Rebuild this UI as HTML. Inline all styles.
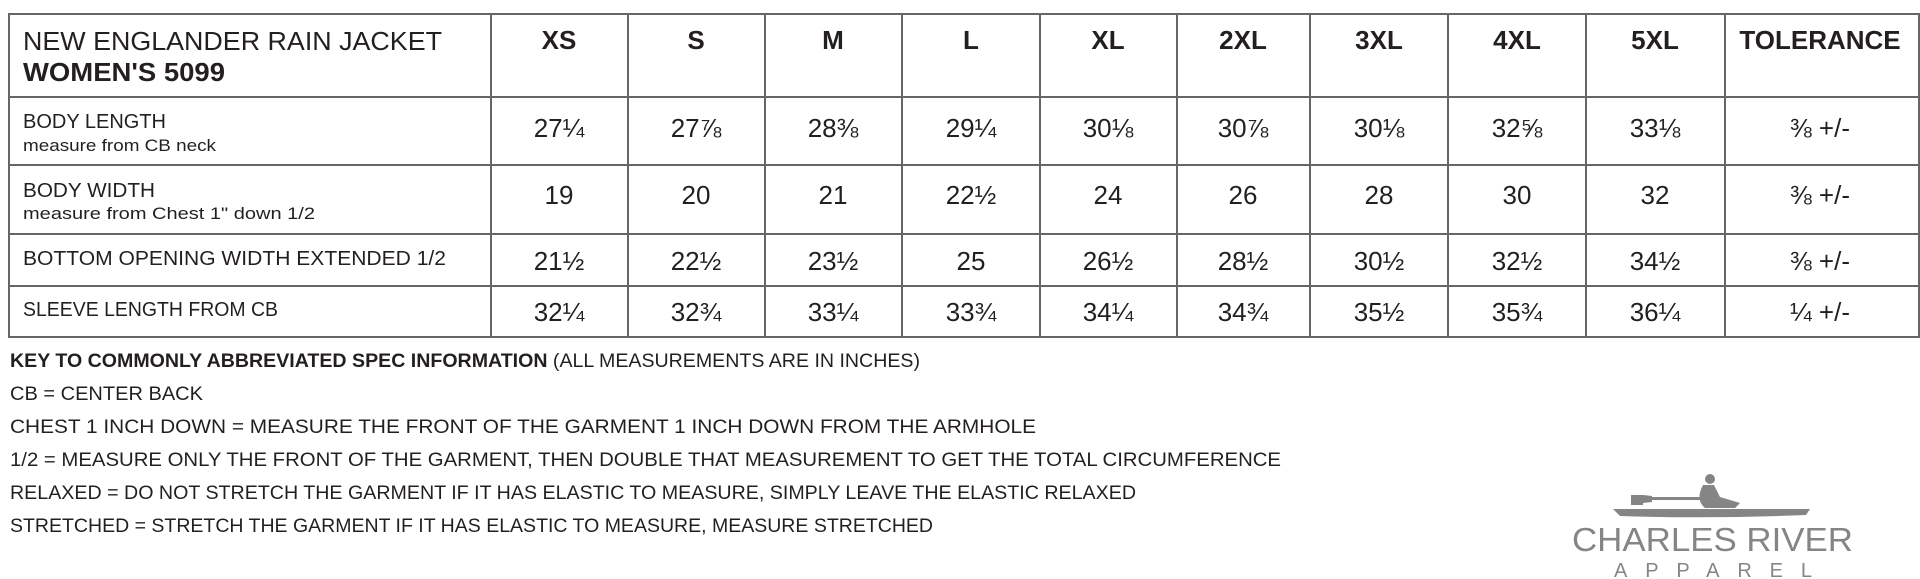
<!DOCTYPE html>
<html><head><meta charset="utf-8"><style>
html,body{margin:0;padding:0;background:#fff;width:1920px;height:579px;overflow:hidden}
svg{display:block}
text{font-family:"Liberation Sans",sans-serif;fill:#231f20}
.h{font-weight:bold;font-size:26px;text-anchor:middle}
.n{font-size:26px;text-anchor:middle}
.l{font-size:20px}
.s{font-size:17px}
.k{font-size:19px}
</style></head><body>
<svg width="1920" height="579" viewBox="0 0 1920 579">
<g stroke="#666" stroke-width="2" fill="none">
<rect x="9" y="14" width="1910" height="323"/>
<line x1="9" y1="97" x2="1919" y2="97"/>
<line x1="9" y1="165" x2="1919" y2="165"/>
<line x1="9" y1="234" x2="1919" y2="234"/>
<line x1="9" y1="286" x2="1919" y2="286"/>
<line x1="491" y1="14" x2="491" y2="337"/>
<line x1="628" y1="14" x2="628" y2="337"/>
<line x1="765" y1="14" x2="765" y2="337"/>
<line x1="902" y1="14" x2="902" y2="337"/>
<line x1="1040" y1="14" x2="1040" y2="337"/>
<line x1="1177" y1="14" x2="1177" y2="337"/>
<line x1="1310" y1="14" x2="1310" y2="337"/>
<line x1="1448" y1="14" x2="1448" y2="337"/>
<line x1="1586" y1="14" x2="1586" y2="337"/>
<line x1="1725" y1="14" x2="1725" y2="337"/>
</g>
<text x="23" y="50" style="font-size:26px" textLength="419" lengthAdjust="spacingAndGlyphs">NEW ENGLANDER RAIN JACKET</text>
<text x="23" y="81" style="font-size:26px;font-weight:bold" textLength="202" lengthAdjust="spacingAndGlyphs">WOMEN'S 5099</text>
<text class="l" x="23" y="128" textLength="143" lengthAdjust="spacingAndGlyphs">BODY LENGTH</text>
<text class="s" x="23" y="151" textLength="193" lengthAdjust="spacingAndGlyphs">measure from CB neck</text>
<text class="l" x="23" y="197" textLength="132" lengthAdjust="spacingAndGlyphs">BODY WIDTH</text>
<text class="s" x="23" y="219" textLength="292" lengthAdjust="spacingAndGlyphs">measure from Chest 1" down 1/2</text>
<text class="l" x="23" y="265" textLength="423" lengthAdjust="spacingAndGlyphs">BOTTOM OPENING WIDTH EXTENDED 1/2</text>
<text class="l" x="23" y="316" textLength="255" lengthAdjust="spacingAndGlyphs">SLEEVE LENGTH FROM CB</text>
<g>
<text class="h" x="559" y="49">XS</text>
<text class="h" x="696" y="49">S</text>
<text class="h" x="833" y="49">M</text>
<text class="h" x="971" y="49">L</text>
<text class="h" x="1108" y="49">XL</text>
<text class="h" x="1243" y="49">2XL</text>
<text class="h" x="1379" y="49">3XL</text>
<text class="h" x="1517" y="49">4XL</text>
<text class="h" x="1655" y="49">5XL</text>
<text class="h" x="1820" y="49">TOLERANCE</text>
</g>
<g>
<text class="n" x="559" y="137">27¼</text><text class="n" x="696" y="137">27⅞</text><text class="n" x="833" y="137">28⅜</text><text class="n" x="971" y="137">29¼</text><text class="n" x="1108" y="137">30⅛</text><text class="n" x="1243" y="137">30⅞</text><text class="n" x="1379" y="137">30⅛</text><text class="n" x="1517" y="137">32⅝</text><text class="n" x="1655" y="137">33⅛</text><text class="n" x="1820" y="137">⅜ +/-</text>
<text class="n" x="559" y="204">19</text><text class="n" x="696" y="204">20</text><text class="n" x="833" y="204">21</text><text class="n" x="971" y="204">22½</text><text class="n" x="1108" y="204">24</text><text class="n" x="1243" y="204">26</text><text class="n" x="1379" y="204">28</text><text class="n" x="1517" y="204">30</text><text class="n" x="1655" y="204">32</text><text class="n" x="1820" y="204">⅜ +/-</text>
<text class="n" x="559" y="270">21½</text><text class="n" x="696" y="270">22½</text><text class="n" x="833" y="270">23½</text><text class="n" x="971" y="270">25</text><text class="n" x="1108" y="270">26½</text><text class="n" x="1243" y="270">28½</text><text class="n" x="1379" y="270">30½</text><text class="n" x="1517" y="270">32½</text><text class="n" x="1655" y="270">34½</text><text class="n" x="1820" y="270">⅜ +/-</text>
<text class="n" x="559" y="321">32¼</text><text class="n" x="696" y="321">32¾</text><text class="n" x="833" y="321">33¼</text><text class="n" x="971" y="321">33¾</text><text class="n" x="1108" y="321">34¼</text><text class="n" x="1243" y="321">34¾</text><text class="n" x="1379" y="321">35½</text><text class="n" x="1517" y="321">35¾</text><text class="n" x="1655" y="321">36¼</text><text class="n" x="1820" y="321">¼ +/-</text>
</g>
<text class="k" x="10" y="367" textLength="910" lengthAdjust="spacingAndGlyphs"><tspan font-weight="bold">KEY TO COMMONLY ABBREVIATED SPEC INFORMATION</tspan> (ALL MEASUREMENTS ARE IN INCHES)</text>
<text class="k" x="10" y="400" textLength="193" lengthAdjust="spacingAndGlyphs">CB = CENTER BACK</text>
<text class="k" x="10" y="433" textLength="1026" lengthAdjust="spacingAndGlyphs">CHEST 1 INCH DOWN = MEASURE THE FRONT OF THE GARMENT 1 INCH DOWN FROM THE ARMHOLE</text>
<text class="k" x="10" y="466" textLength="1271" lengthAdjust="spacingAndGlyphs">1/2 = MEASURE ONLY THE FRONT OF THE GARMENT, THEN DOUBLE THAT MEASUREMENT TO GET THE TOTAL CIRCUMFERENCE</text>
<text class="k" x="10" y="499" textLength="1126" lengthAdjust="spacingAndGlyphs">RELAXED = DO NOT STRETCH THE GARMENT IF IT HAS ELASTIC TO MEASURE, SIMPLY LEAVE THE ELASTIC RELAXED</text>
<text class="k" x="10" y="532" textLength="923" lengthAdjust="spacingAndGlyphs">STRETCHED = STRETCH THE GARMENT IF IT HAS ELASTIC TO MEASURE, MEASURE STRETCHED</text>
<g fill="#858585">
<path d="M1613,509 L1810,509 L1806,515 Q1710,519 1620,516 Z"/>
<circle cx="1710" cy="479" r="5"/>
<path d="M1703,485 L1714,485 L1720,497 L1740,503 L1735,508 L1705,508 Q1695,500 1703,485 Z"/>
<rect x="1650" y="497" width="55" height="3"/>
<rect x="1631" y="495" width="12" height="10"/>
<path d="M1643,495 L1652,496 L1652,502 L1643,503 Z"/>
</g>
<text x="1572" y="551" style="font-size:33px;fill:#858585" textLength="281" lengthAdjust="spacingAndGlyphs">CHARLES RIVER</text>
<text x="1614" y="577" style="font-size:20px;fill:#858585" textLength="198" lengthAdjust="spacing">APPAREL</text>
</svg>
</body></html>
